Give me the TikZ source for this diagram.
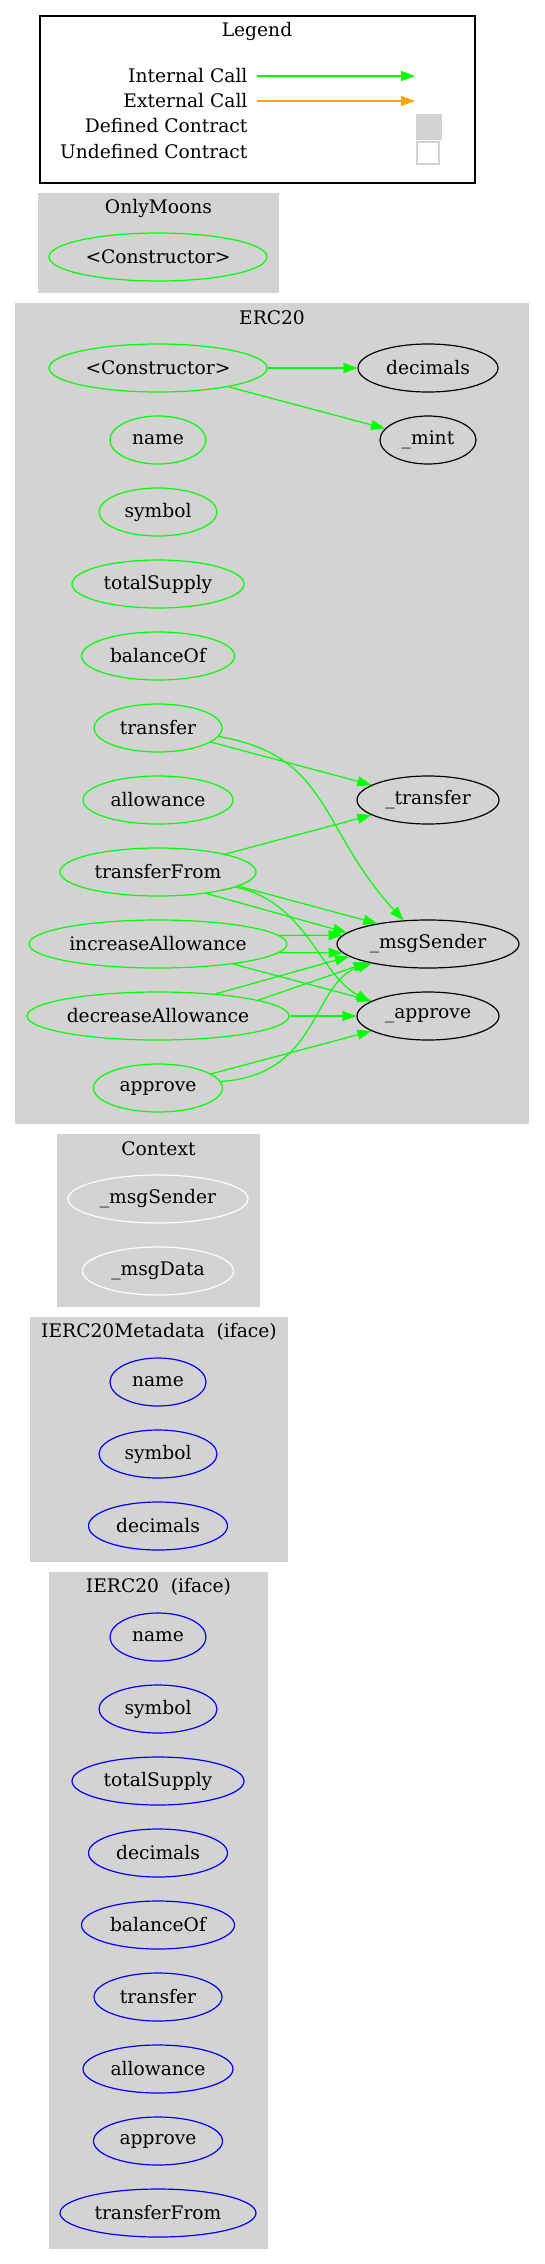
\documentclass[tikz,border=0pt]{standalone}
\usepackage{fontspec}
\setmainfont{DejaVu Serif}
\usetikzlibrary{shapes.geometric, positioning, arrows.meta}
\definecolor{callgreen}{HTML}{00FF00}
\definecolor{extorange}{HTML}{FFA500}
\definecolor{clustergray}{HTML}{D3D3D3}
\definecolor{ifaceblue}{HTML}{0000FF}
\tikzset{
    every node/.style={font=\fontsize{18.67}{22}\selectfont}, % same text size everywhere
    fn/.style={ellipse, draw, line width=1.2pt, minimum height=48pt, inner sep=0pt}, % one function of a contract
    internal fn/.style={fn, draw=callgreen}, % defined and called internally
    called fn/.style={fn, draw=black}, % only reached by a call
    context fn/.style={fn, draw=white},
    iface fn/.style={fn, draw=ifaceblue}, % interface functions
    call/.style={draw, line width=1.2pt, color=callgreen, -{Triangle[length=14pt, width=10pt]}}, % internal call
    external call/.style={call, color=extorange},
    cluster/.style={fill=clustergray}, % background of a contract
    legend frame/.style={draw=black, line width=1.2pt},
    defined box/.style={fill=clustergray, minimum size=26pt, inner sep=0pt},
    undefined box/.style={draw=clustergray, fill=white, line width=1.2pt, minimum size=22pt, inner sep=0pt},
    }

\begin{document}
\begin{tikzpicture}[x=1pt, y=-1pt, node distance=72pt]
\useasboundingbox (0,0) rectangle (545,2264);

% legend
\draw[legend frame] (40,16) rectangle (475,183);
\node (legendTitle) at (257,31) {Legend};
\node[anchor=east] (internalText) at (251,76) {Internal Call};
\node[anchor=east] (externalText) at (251,101) {External Call};
\node[anchor=east] (definedText) at (251,126) {Defined Contract};
\node[anchor=east] (undefinedText) at (251,152) {Undefined Contract};
\coordinate (internalFrom) at (257,76);
\coordinate (internalTo) at (415,76);
\coordinate (externalFrom) at (257,101);
\coordinate (externalTo) at (415,101);
\draw[call] (internalFrom) -- (internalTo);
\draw[external call] (externalFrom) -- (externalTo);
\node[defined box] (definedBox) at (428.5,127) {};
\node[undefined box] (undefinedBox) at (428,153) {};

% contracts
\fill[cluster] (38,193) rectangle (279,293);
\fill[cluster] (15,303) rectangle (529,1124);
\fill[cluster] (57,1134) rectangle (260,1307);
\fill[cluster] (30,1317) rectangle (288,1562);
\fill[cluster] (49,1572) rectangle (268,2249);
\node (onlyMoonsTitle) at (158.5,208) {OnlyMoons};
\node (ercTitle) at (272,318) {ERC20};
\node (contextTitle) at (158.5,1149) {Context};
\node (metadataTitle) at (159,1332) {IERC20Metadata\ \ (iface)};
\node (ifaceTitle) at (158.5,1587) {IERC20\ \ (iface)};

% OnlyMoons
\node[internal fn, minimum width=218pt] (omCtor) at (158,257) {<Constructor>};

% ERC20
\node[internal fn, minimum width=218pt] (ercCtor) at (158,368) {<Constructor>};
\node[internal fn, minimum width=96pt, below of=ercCtor] (ercName) {name};
\node[internal fn, minimum width=118pt, below of=ercName] (ercSymbol) {symbol};
\node[internal fn, minimum width=172pt, below of=ercSymbol] (ercTotalSupply) {totalSupply};
\node[internal fn, minimum width=153pt, below of=ercTotalSupply] (ercBalanceOf) {balanceOf};
\node[internal fn, minimum width=128pt, below of=ercBalanceOf] (ercTransfer) {transfer};
\node[internal fn, minimum width=150pt, below of=ercTransfer] (ercAllowance) {allowance};
\node[internal fn, minimum width=196pt, below of=ercAllowance] (ercTransferFrom) {transferFrom};
\node[internal fn, minimum width=258pt, below of=ercTransferFrom] (ercIncrease) {increaseAllowance};
\node[internal fn, minimum width=262pt, below of=ercIncrease] (ercDecrease) {decreaseAllowance};
\node[internal fn, minimum width=129pt, below of=ercDecrease] (ercApprove) {approve};

\node[called fn, minimum width=140pt, node distance=270pt, right of=ercCtor] (ercDecimals) {decimals};
\node[called fn, minimum width=96pt, node distance=270pt, right of=ercName] (ercMint) {\_mint};
\node[called fn, minimum width=142pt, node distance=270pt, right of=ercAllowance] (ercUTransfer) {\_transfer};
\node[called fn, minimum width=182pt, node distance=270pt, right of=ercIncrease] (ercMsgSender) {\_msgSender};
\node[called fn, minimum width=142pt, node distance=270pt, right of=ercDecrease] (ercUApprove) {\_approve};

% Context
\node[context fn, minimum width=180pt] (ctxMsgSender) at (158,1199) {\_msgSender};
\node[context fn, minimum width=151pt, below of=ctxMsgSender] (ctxMsgData) {\_msgData};

% IERC20Metadata
\node[iface fn, minimum width=96pt] (metaName) at (158,1382) {name};
\node[iface fn, minimum width=118pt, below of=metaName] (metaSymbol) {symbol};
\node[iface fn, minimum width=139pt, below of=metaSymbol] (metaDecimals) {decimals};

% IERC20
\node[iface fn, minimum width=96pt] (ifName) at (158,1637) {name};
\node[iface fn, minimum width=118pt, below of=ifName] (ifSymbol) {symbol};
\node[iface fn, minimum width=172pt, below of=ifSymbol] (ifTotalSupply) {totalSupply};
\node[iface fn, minimum width=139pt, below of=ifTotalSupply] (ifDecimals) {decimals};
\node[iface fn, minimum width=153pt, below of=ifDecimals] (ifBalanceOf) {balanceOf};
\node[iface fn, minimum width=128pt, below of=ifBalanceOf] (ifTransfer) {transfer};
\node[iface fn, minimum width=150pt, below of=ifTransfer] (ifAllowance) {allowance};
\node[iface fn, minimum width=129pt, below of=ifAllowance] (ifApprove) {approve};
\node[iface fn, minimum width=196pt, below of=ifApprove] (ifTransferFrom) {transferFrom};

% calls inside ERC20
\path (ercCtor) edge[call] (ercDecimals)
(ercCtor) edge[call] (ercMint)
(ercTransfer) edge[call] (ercUTransfer)
(ercTransferFrom) edge[call] (ercUTransfer)
(ercTransferFrom.-10) edge[call] (ercMsgSender.158)
(ercTransferFrom.-24) edge[call] (ercMsgSender.172)
(ercIncrease.4) edge[call] (ercMsgSender.174)
(ercIncrease.-4) edge[call] (ercMsgSender.-174)
(ercIncrease) edge[call] (ercUApprove)
(ercDecrease.21) edge[call] (ercMsgSender.189)
(ercDecrease.9) edge[call] (ercMsgSender.197)
(ercDecrease) edge[call] (ercUApprove)
(ercApprove) edge[call] (ercUApprove);
\draw[call] (ercTransfer.-8) .. controls +(112,19) and +(-84,-91) .. (ercMsgSender.136);
\draw[call] (ercTransferFrom.-11) .. controls +(71,15) and +(-51,-27) .. (ercUApprove.166);
\draw[call] (ercApprove.6) .. controls +(100,-6) and +(-60,18) .. (ercMsgSender.199);
\end{tikzpicture}
\end{document}
